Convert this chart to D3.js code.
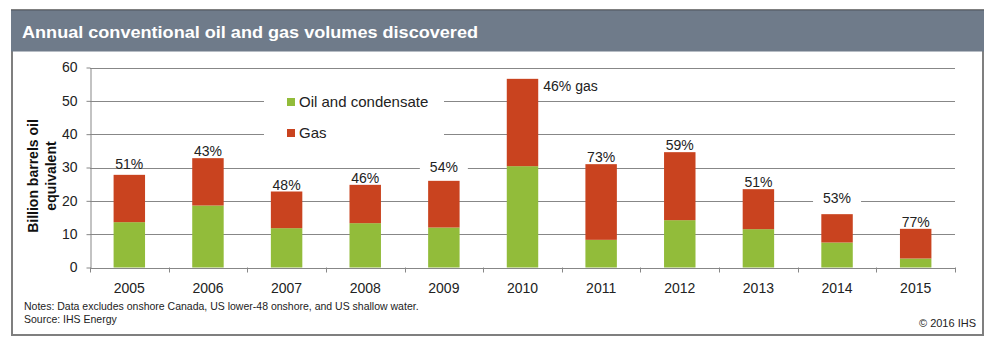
<!DOCTYPE html>
<html>
<head>
<meta charset="utf-8">
<script src="https://cdn.jsdelivr.net/npm/d3@7"></script>
<style>
  html, body { margin: 0; padding: 0; background: #fff; }
  svg { display: block; font-family: "Liberation Sans", Arial, sans-serif; }
</style>
</head>
<body>
<svg id="chart" width="992" height="346"></svg>
<script>
// Volumes découverts par année (milliards de barils équivalent pétrole)
const years = ["2005", "2006", "2007", "2008", "2009", "2010", "2011", "2012", "2013", "2014", "2015"];
const oil = [13.6, 18.6, 11.8, 13.3, 12.0, 30.4, 8.3, 14.2, 11.5, 7.5, 2.7];
const gas = [14.2, 14.2, 11.0, 11.5, 14.0, 26.2, 22.7, 20.4, 12.0, 8.5, 8.9];
const gasLabels = ["51%", "43%", "48%", "46%", "54%", "46% gas", "73%", "59%", "51%", "53%", "77%"];
const yTicks = [0, 10, 20, 30, 40, 50, 60];
const seriesNames = ["Oil and condensate", "Gas"];

const colors = { oil: "#92bc3a", gas: "#c9431f" };
const gridColor = "#878787";

const svg = d3.select("#chart");

// Zone du graphique
const plot = { left: 90, right: 955, top: 67.5, bottom: 267.5 };

// Décalages manuels de certaines étiquettes (px au-dessus de la barre)
const labelLift = { "2005": 6, "2009": 9, "2014": 11 };
const boxedLabels = ["2009", "2014"];

// Cadre et bandeau de titre
svg.append("rect")
  .attr("x", 12).attr("y", 10).attr("width", 971).attr("height", 325)
  .attr("fill", "#fff").attr("stroke", "#7f7f7f").attr("stroke-width", 2);

svg.append("rect")
  .attr("x", 11).attr("y", 10).attr("width", 973).attr("height", 41.5)
  .attr("fill", "#6f7b8a");
svg.append("line")
  .attr("x1", 11).attr("x2", 984).attr("y1", 10.5).attr("y2", 10.5)
  .attr("stroke", "#5f6874");

svg.append("text")
  .attr("x", 22).attr("y", 38)
  .attr("fill", "#fff")
  .attr("font-size", 17)
  .attr("font-weight", "bold")
  .attr("textLength", 456)
  .attr("lengthAdjust", "spacingAndGlyphs")
  .text("Annual conventional oil and gas volumes discovered");

// Échelles
const data = years.map((y, i) => ({ year: y, oil: oil[i], gas: gas[i] }));
const stack = d3.stack().keys(["oil", "gas"])(data);

const xCat = d3.scaleBand().domain(years).range([plot.left, plot.right]);
const x = d3.scaleBand().domain(years).range([plot.left, plot.right])
  .paddingInner(0.6).paddingOuter(0.3);
const y = d3.scaleLinear().domain([0, 60]).range([plot.bottom, plot.top]);

// Lignes de quadrillage
svg.append("g")
  .selectAll("line")
  .data(yTicks.filter(d => d > 0))
  .join("line")
  .attr("x1", plot.left).attr("x2", plot.right)
  .attr("y1", d => Math.round(y(d)) + 0.5)
  .attr("y2", d => Math.round(y(d)) + 0.5)
  .attr("stroke", gridColor);

// Cartouche blanc de la légende (masque le quadrillage)
svg.append("rect")
  .attr("x", 264).attr("y", 85).attr("width", 180).attr("height", 64)
  .attr("fill", "#fff");

// Barres empilées
svg.append("g")
  .selectAll("g")
  .data(stack)
  .join("g")
  .attr("fill", d => colors[d.key])
  .selectAll("rect")
  .data(d => d)
  .join("rect")
  .attr("x", d => x(d.data.year))
  .attr("width", x.bandwidth())
  .attr("y", d => y(d[1]))
  .attr("height", d => y(d[0]) - y(d[1]));

// Axe vertical
const yAxis = svg.append("g")
  .attr("transform", `translate(${plot.left + 0.5},0)`)
  .call(d3.axisLeft(y).tickValues(yTicks).tickSize(4).tickSizeOuter(0).tickPadding(9));
yAxis.selectAll("path, line").attr("stroke", gridColor);
yAxis.selectAll("text")
  .attr("font-size", 14)
  .attr("font-family", "Liberation Sans, Arial, sans-serif")
  .attr("fill", "#222");

// Axe horizontal : libellés centrés et graduations entre les catégories
const xAxis = svg.append("g")
  .attr("transform", `translate(0,${plot.bottom + 0.5})`)
  .call(d3.axisBottom(xCat).tickSize(0).tickPadding(15));
xAxis.select(".domain").attr("stroke", gridColor);
xAxis.selectAll("text")
  .attr("font-size", 14)
  .attr("font-family", "Liberation Sans, Arial, sans-serif")
  .attr("fill", "#222");

const bounds = years.map(d => xCat(d)).concat([plot.right]);
svg.append("g")
  .selectAll("line")
  .data(bounds)
  .join("line")
  .attr("x1", d => Math.round(d) + 0.5).attr("x2", d => Math.round(d) + 0.5)
  .attr("y1", plot.bottom).attr("y2", plot.bottom + 5)
  .attr("stroke", gridColor);

// Étiquettes de part du gaz
const labels = svg.append("g")
  .attr("font-size", 14)
  .attr("fill", "#222");

data.forEach((d, i) => {
  const top = y(d.oil + d.gas);
  const isWide = gasLabels[i].indexOf("gas") >= 0;
  const lx = isWide ? x(d.year) + x.bandwidth() + 5 : x(d.year) + x.bandwidth() / 2;
  const ly = isWide ? top + 12 : top - (labelLift[d.year] || 2);

  if (boxedLabels.includes(d.year)) {
    labels.append("rect")
      .attr("x", lx - 24).attr("y", ly - 14)
      .attr("width", 48).attr("height", 18)
      .attr("fill", "#fff");
  }
  labels.append("text")
    .attr("x", lx)
    .attr("y", ly)
    .attr("text-anchor", isWide ? "start" : "middle")
    .text(gasLabels[i]);
});

// Légende
const legend = svg.append("g").attr("font-size", 15).attr("fill", "#222");
seriesNames.forEach((name, i) => {
  const ly = 107 + i * 31;
  legend.append("rect")
    .attr("x", 287).attr("y", ly - 9)
    .attr("width", 8).attr("height", 8)
    .attr("fill", i === 0 ? colors.oil : colors.gas);
  legend.append("text")
    .attr("x", 299).attr("y", ly)
    .text(name);
});

// Titre de l'axe vertical
const yTitle = svg.append("text")
  .attr("transform", "translate(33,176) rotate(-90)")
  .attr("text-anchor", "middle")
  .attr("font-size", 14)
  .attr("font-weight", "bold")
  .attr("fill", "#111");
yTitle.append("tspan").attr("x", 0).attr("dy", 5).text("Billion barrels oil");
yTitle.append("tspan").attr("x", 0).attr("dy", 18).text("equivalent");

// Notes et source
const notes = svg.append("g").attr("font-size", 10.5).attr("fill", "#222");
notes.append("text").attr("x", 24).attr("y", 310)
  .text("Notes: Data excludes onshore Canada, US lower-48 onshore, and US shallow water.");
notes.append("text").attr("x", 24).attr("y", 322.5)
  .text("Source: IHS Energy");
notes.append("text").attr("x", 976).attr("y", 326.5)
  .attr("text-anchor", "end")
  .attr("font-size", 11)
  .text("© 2016 IHS");
</script>
</body>
</html>
